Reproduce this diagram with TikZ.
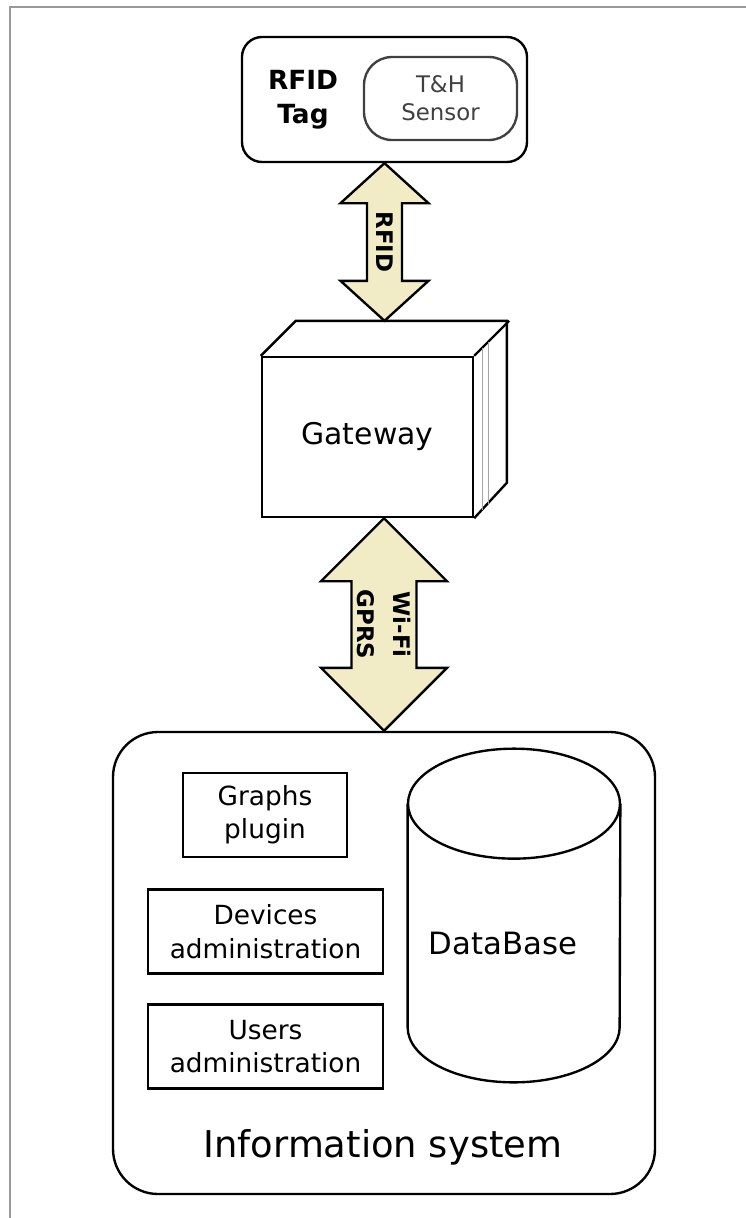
\documentclass[tikz,border=0pt]{standalone}
\usepackage{fontspec}
\setmainfont{DejaVu Sans}
\usepackage{tikz}
\usetikzlibrary{calc,positioning}
\newcommand{\pxu}{0.02cm}
\definecolor{pipefill}{RGB}{241,236,198}
% double arrow between two points: from, to, shaft half width, head half width, head length
\newcommand{\pipeconn}[5]{%
	\draw[pipe] (#1) -- ++(#4,#5) -- ++({#3-#4},0) -- ($(#2)+(#3,-#5)$) -- ++({#4-#3},0) -- (#2)
		-- ++(-#4,-#5) -- ++({#4-#3},0) -- ($(#1)+(-#3,#5)$) -- ++({#3-#4},0) -- cycle;}

\begin{document}
\begin{tikzpicture}[x=\pxu,y=-\pxu,
	line/.style={line width=1.35pt},
	tagbox/.style={draw,line,rounded corners=20*\pxu,minimum width=285*\pxu,minimum height=125*\pxu},
	sensorbox/.style={draw=black!75,line,rounded corners=28*\pxu,minimum width=153*\pxu,minimum height=83*\pxu},
	gwbox/.style={draw,line,minimum width=211*\pxu,minimum height=160*\pxu},
	isbox/.style={draw,line,rounded corners=45*\pxu,minimum width=542*\pxu,minimum height=462*\pxu},
	modbox/.style={draw,line width=1.6pt,align=center,minimum height=84*\pxu,
		font=\fontsize{15}{19}\selectfont},
	dbbody/.style={minimum width=212*\pxu,minimum height=333*\pxu},
	pipe/.style={draw,line,fill=pipefill,line join=miter},
	pipelabel/.style={rotate=-90,align=center,font=\bfseries\fontsize{13}{20}\selectfont},
	faint/.style={draw=black!35,line width=0.5pt}
]
	\useasboundingbox (0,0) rectangle (746,1218);
	\draw[black!40,line width=1.2pt] (10,1218) -- (10,7) -- (746,7);

	% tag
	\node[tagbox] (tag) at (384.5,99.5) {};
	\node[sensorbox] (sensor) at (440.5,98.5) {};
	\node[align=center,font=\bfseries\fontsize{15}{19.3}\selectfont] (tagtext) at (303,100) {RFID\\Tag};
	\node[align=center,text=black!75,font=\fontsize{13}{16}\selectfont] (sensortext) at (sensor) {T\&H\\Sensor};

	% gateway
	\node[gwbox,font=\fontsize{17}{20}\selectfont] (gw) at (367.5,437) {Gateway};
	\draw[line] (gw.north west) -- ++(35,-35) coordinate (gwback) -- ++(211,0) -- ++(0,162) -- (gw.south east);
	\draw[line] (gw.north east) -- ++(35,-35);
	\foreach \d in {8,14}
		\draw[faint] ($(gw.north east)+(\d,-\d)$) -- ($(gw.south east)+(\d,-\d)$);

	% information system
	\node[isbox] (is) at (384,963) {};
	\node[font=\fontsize{21}{24}\selectfont] (istitle) at (383,1147) {Information system};
	\node[modbox,minimum width=164*\pxu] (graphs) at (265,815) {Graphs\\plugin};
	\node[modbox,minimum width=235*\pxu] (devices) at (265.5,931.5) {Devices\\administration};
	\node[modbox,minimum width=235*\pxu] (users) at (265.5,1046.5) {Users\\administration};

	% database
	\node[dbbody] (db) at (514,915.5) {};
	\draw[line] ([yshift=-55*\pxu]db.north west) -- ([yshift=55*\pxu]db.south west)
		arc[start angle=180,end angle=360,x radius=106*\pxu,y radius=55*\pxu]
		-- ([yshift=-55*\pxu]db.north east);
	\draw[line] ([yshift=-55*\pxu]db.north) ellipse[x radius=106*\pxu,y radius=55*\pxu];
	\node[font=\fontsize{17.5}{20}\selectfont] (dbtext) at (503,943) {DataBase};

	% links
	\pipeconn{tag.south}{tag.south |- gwback}{17.5}{44}{40}
	\node[pipelabel] (rfid) at ($(tag.south)!0.5!(tag.south |- gwback)$) {RFID};
	\pipeconn{gw.south -| is.north}{is.north}{32.5}{63}{63}
	\node[pipelabel] (wifi) at ($(gw.south -| is.north)!0.5!(is.north)$) {Wi-Fi\\GPRS};
\end{tikzpicture}
\end{document}
